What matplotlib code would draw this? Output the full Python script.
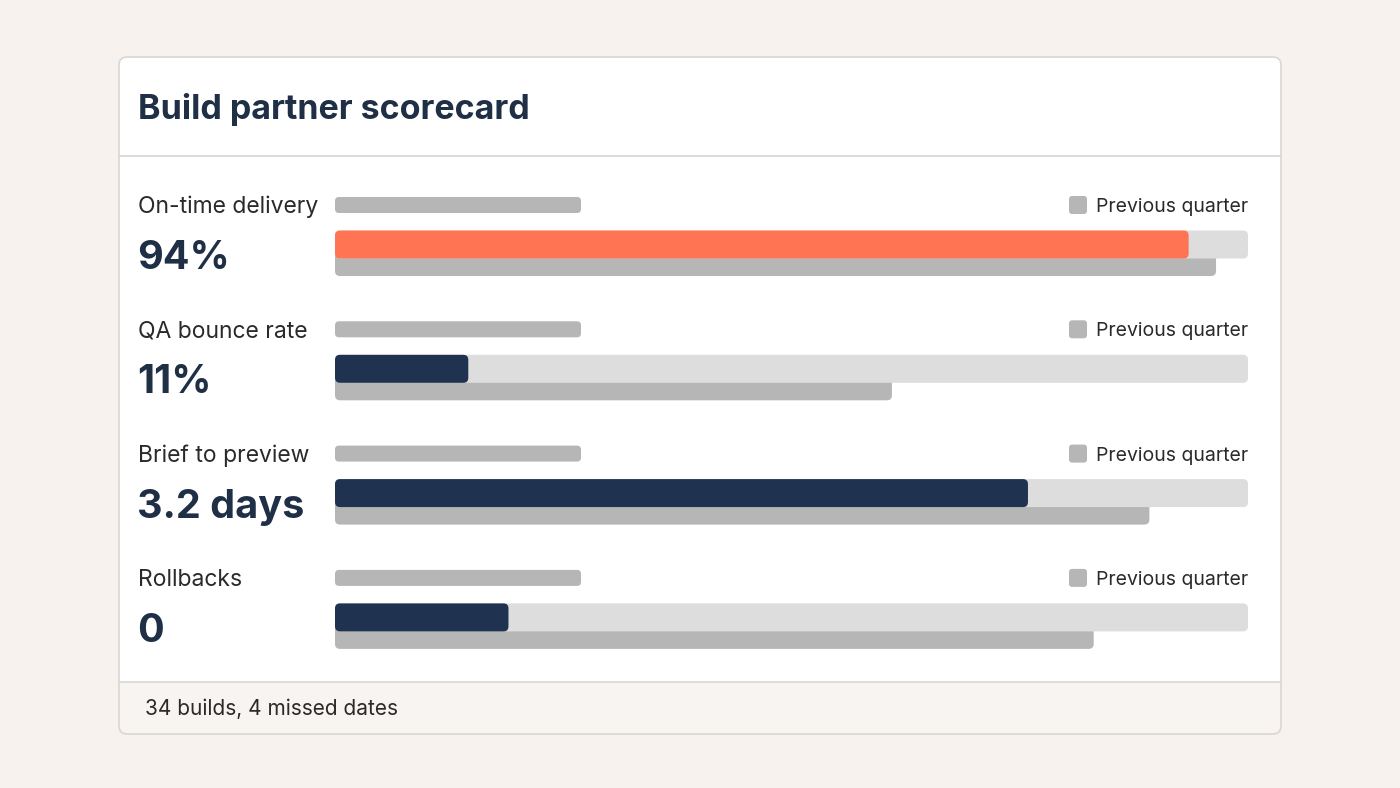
import matplotlib.pyplot as plt
from matplotlib.patches import FancyBboxPatch, Rectangle

# data
metrics = ["On-time delivery", "QA bounce rate", "Brief to preview", "Rollbacks"]
values_text = ["94%", "11%", "3.2 days", "0"]
current_fill = [93.5, 14.6, 75.9, 19.0]   # % of track
previous_fill = [96.5, 61.0, 89.2, 83.1]
highlight = [True, False, False, False]
title = "Build partner scorecard"
footer = "34 builds, 4 missed dates"
legend_label = "Previous quarter"

BG = "#f8f2ee"
FOOT = "#f8f4f1"
EDGE = "#dbd6d2"
NAVY = "#1f3250"
ORANGE = "#ff7452"
TRACK = "#dddddd"
PREV = "#b6b6b6"
TXT = "#1f2f46"
LBL = "#2a2a2a"
FONT = ["Inter", "DejaVu Sans"]

W, H = 1400, 788
fig = plt.figure(figsize=(14, 7.88), dpi=100)
fig.patch.set_facecolor(BG)

# canvas in pixel coords
cv = fig.add_axes([0, 0, 1, 1])
cv.set_xlim(0, W)
cv.set_ylim(H, 0)
cv.axis("off")

cx0, cx1, cy0, cy1 = 119, 1281, 57, 734
cv.add_patch(FancyBboxPatch((cx0, cy0), cx1 - cx0, cy1 - cy0,
                            boxstyle="round,pad=0,rounding_size=8",
                            fc=FOOT, ec="none", zorder=1))
cv.add_patch(FancyBboxPatch((cx0, cy0), cx1 - cx0, 660 - cy0,
                            boxstyle="round,pad=0,rounding_size=8",
                            fc="white", ec="none", zorder=1.1))
cv.add_patch(Rectangle((cx0, 640), cx1 - cx0, 42, fc="white", ec="none", zorder=1.2))
cv.add_patch(FancyBboxPatch((cx0, cy0), cx1 - cx0, cy1 - cy0,
                            boxstyle="round,pad=0,rounding_size=8",
                            fc="none", ec=EDGE, lw=1.2, zorder=3))
cv.plot([cx0, cx1], [156, 156], color=EDGE, lw=1.2, zorder=3)
cv.plot([cx0, cx1], [682, 682], color=EDGE, lw=1.2, zorder=3)

cv.text(138, 119, title, fontsize=24.5, fontweight="bold", color=TXT,
        family=FONT, va="baseline", zorder=4)
cv.text(145, 715, footer, fontsize=15, color=LBL, family=FONT,
        va="baseline", zorder=4)

row_step = 124.3
for i, (name, val) in enumerate(zip(metrics, values_text)):
    y = 205 + i * row_step
    cv.text(138, y + 8, name, fontsize=16.5, color=LBL, family=FONT,
            va="baseline", zorder=4)
    cv.text(137, y + 64, val, fontsize=28.5, fontweight="bold", color=TXT,
            family=FONT, va="baseline", zorder=4)
    # skeleton placeholder
    cv.add_patch(FancyBboxPatch((335, y - 8), 246, 16,
                                boxstyle="round,pad=0,rounding_size=4",
                                fc=PREV, ec="none", zorder=4))
    # legend
    cv.add_patch(FancyBboxPatch((1069, y - 9), 18, 18,
                                boxstyle="round,pad=0,rounding_size=3",
                                fc=PREV, ec="none", zorder=4))
    cv.text(1248, y + 7, legend_label, fontsize=14, color=LBL, family=FONT,
            va="baseline", ha="right", zorder=4)

# bars axes: x in % of track, y in pixels
bx0, bx1, by0, by1 = 335, 1248, 180, 660
ax = fig.add_axes([bx0 / W, (H - by1) / H, (bx1 - bx0) / W, (by1 - by0) / H])
ax.set_xlim(0, 100)
ax.set_ylim(by1, by0)
ax.axis("off")
ax.patch.set_alpha(0)
px = (bx1 - bx0) / 100.0  # pixels per unit


def rbar(x, yc, w, h, r, color, z):
    ax.add_patch(FancyBboxPatch((x, yc - h / 2), w, h,
                                boxstyle=f"round,pad=0,rounding_size={r / px}",
                                mutation_aspect=px, fc=color, ec="none", zorder=z))


for i in range(len(metrics)):
    y = 205 + i * row_step
    track_c = y + 39.5
    rbar(0, y + 55, previous_fill[i], 32, 5, PREV, 1)
    rbar(0, track_c, 100, 28, 5, TRACK, 2)
    rbar(0, track_c, current_fill[i], 28, 5, ORANGE if highlight[i] else NAVY, 3)

fig.savefig("out.png", dpi=100, facecolor=BG)
